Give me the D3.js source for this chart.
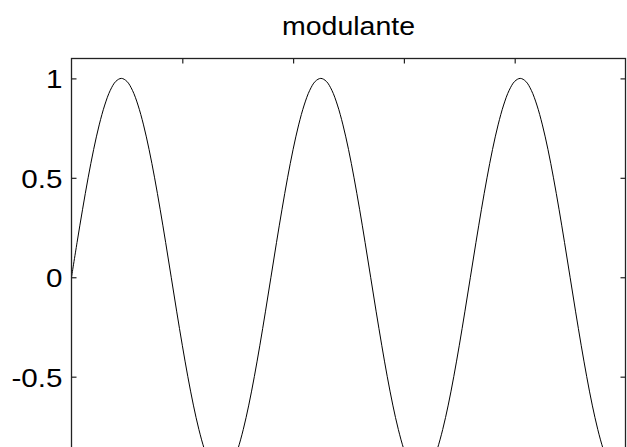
<!DOCTYPE html>
<html>
<head>
<meta charset="utf-8">
<script src="https://cdn.jsdelivr.net/npm/d3@7"></script>
<style>
  html, body { margin: 0; padding: 0; background: #fff; overflow: hidden; }
  svg { display: block; }
  text { font-family: "Liberation Sans", Arial, Helvetica, sans-serif; fill: #000; }
</style>
</head>
<body>
<svg id="chart" width="627" height="447"></svg>
<script>
// Modulating signal, sampled every 0.05 time units
const title = "modulante";
const sampleStep = 0.05;
const signal = [
  0, 0.174, 0.342, 0.5, 0.643, 0.766, 0.866, 0.94, 0.985, 1,
  0.985, 0.94, 0.866, 0.766, 0.643, 0.5, 0.342, 0.174, 0, -0.174,
  -0.342, -0.5, -0.643, -0.766, -0.866, -0.94, -0.985, -1, -0.985, -0.94,
  -0.866, -0.766, -0.643, -0.5, -0.342, -0.174,
  0, 0.174, 0.342, 0.5, 0.643, 0.766, 0.866, 0.94, 0.985, 1,
  0.985, 0.94, 0.866, 0.766, 0.643, 0.5, 0.342, 0.174, 0, -0.174,
  -0.342, -0.5, -0.643, -0.766, -0.866, -0.94, -0.985, -1, -0.985, -0.94,
  -0.866, -0.766, -0.643, -0.5, -0.342, -0.174,
  0, 0.174, 0.342, 0.5, 0.643, 0.766, 0.866, 0.94, 0.985, 1,
  0.985, 0.94, 0.866, 0.766, 0.643, 0.5, 0.342, 0.174, 0, -0.174,
  -0.342, -0.5, -0.643, -0.766, -0.866, -0.94, -0.985, -1, -0.985
];
const xDomain = [0, 5];
const yDomain = [-1.1, 1.1];
const xTicks = [1, 2, 3, 4];
const yTicks = [-0.5, 0, 0.5, 1];
const yTickLabels = ["-0.5", "0", "0.5", "1"];

const svg = d3.select("#chart");
const box = { left: 71.5, top: 58.5, right: 625.5, bottom: 496 };

const x = d3.scaleLinear().domain(xDomain).range([box.left, box.right]);
const y = d3.scaleLinear().domain(yDomain).range([box.bottom, box.top]);

const points = signal.map((v, i) => [i * sampleStep, v]);

// Curve
svg.append("path")
  .datum(points)
  .attr("fill", "none")
  .attr("stroke", "#000")
  .attr("stroke-width", 1)
  .attr("d", d3.line()
    .x(d => x(d[0]))
    .y(d => y(d[1]))
    .curve(d3.curveCatmullRom));

// Axes with inward ticks on all four sides
const tickLen = 5;
const axisStyle = g => {
  g.select(".domain").remove();
  g.selectAll(".tick line").attr("stroke", "#222").attr("stroke-width", 1.2);
};

svg.append("g")
  .attr("transform", `translate(0,${box.top})`)
  .call(d3.axisTop(x).tickValues(xTicks).tickSize(-tickLen).tickFormat(""))
  .call(axisStyle);

svg.append("g")
  .attr("transform", `translate(${box.right},0)`)
  .call(d3.axisRight(y).tickValues(yTicks).tickSize(-tickLen).tickFormat(""))
  .call(axisStyle);

const leftAxis = svg.append("g")
  .attr("transform", `translate(${box.left},0)`)
  .call(d3.axisLeft(y).tickValues(yTicks).tickSize(-tickLen)
    .tickFormat((d, i) => yTickLabels[i]))
  .call(axisStyle);

leftAxis.selectAll(".tick text")
  .attr("font-size", 26)
  .attr("font-family", "Liberation Sans, Arial, sans-serif")
  .attr("fill", "#000")
  .attr("x", 0)
  .attr("dy", "0.36em")
  .attr("transform", "translate(-9,0) scale(1.14,1)")
  .attr("text-anchor", "end");

// Plot frame
svg.append("rect")
  .attr("x", box.left)
  .attr("y", box.top)
  .attr("width", box.right - box.left)
  .attr("height", box.bottom - box.top)
  .attr("fill", "none")
  .attr("stroke", "#222")
  .attr("stroke-width", 1.3);

// Title
svg.append("text")
  .attr("transform", `translate(${(box.left + box.right) / 2},35) scale(1.14,1)`)
  .attr("text-anchor", "middle")
  .attr("font-size", 25)
  .text(title);
</script>
</body>
</html>
